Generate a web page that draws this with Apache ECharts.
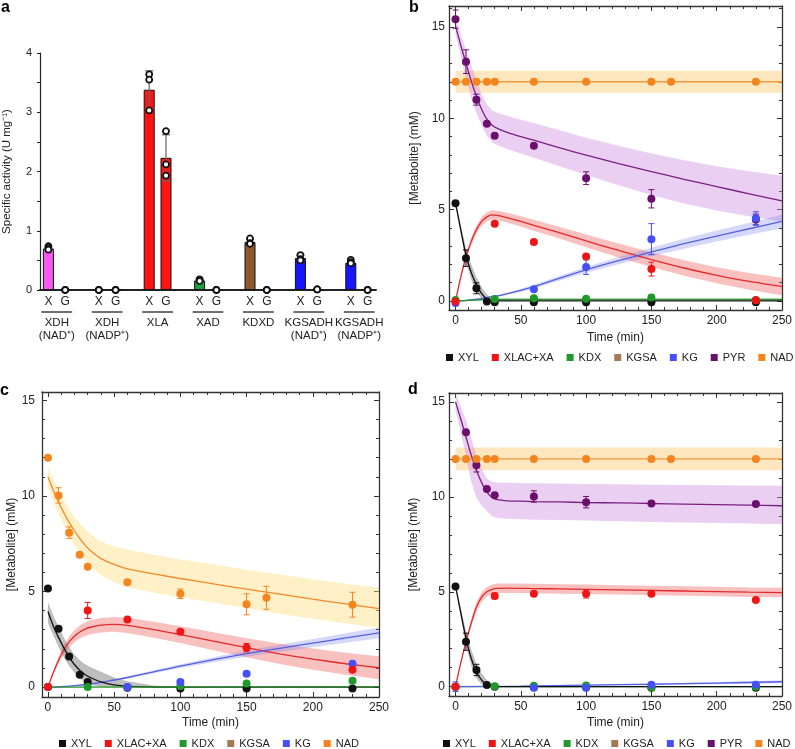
<!DOCTYPE html>
<html><head><meta charset="utf-8">
<script src="https://cdn.jsdelivr.net/npm/echarts@6/dist/echarts.min.js"></script>
<style>html,body{margin:0;padding:0;background:#fff}#chart{width:795px;height:749px}</style>
</head><body><div id="chart"></div>
<script>
// ================= Panel a data =================
const enzymeGroups = ['XDH\n(NAD\u207A)', 'XDH\n(NADP\u207A)', 'XLA', 'XAD', 'KDXD', 'KGSADH\n(NAD\u207A)', 'KGSADH\n(NADP\u207A)'];
const substrateLabels = ['X', 'G'];
const activityX = [0.70, 0.00, 3.38, 0.16, 0.81, 0.54, 0.46];
const activityG = [0.00, 0.00, 2.23, 0.00, 0.00, 0.01, 0.00];
const sdX = [0.03, 0.00, 0.32, 0.01, 0.05, 0.05, 0.02];
const sdG = [0.00, 0.00, 0.39, 0.00, 0.00, 0.00, 0.00];
const repX = [[0.74, 0.71, 0.68], [0, 0, 0], [3.64, 3.55, 3.03], [0.18, 0.17, 0.15], [0.87, 0.79, 0.78], [0.59, 0.52, 0.50], [0.51, 0.47, 0.45]];
const repG = [[0, 0, 0], [0, 0, 0], [2.68, 2.12, 1.93], [0, 0, 0], [0, 0, 0], [0.01, 0.01, 0.01], [0, 0, 0]];
const activityTicks = [0, 1, 2, 3, 4];

// ================= Time-course axes =================
const timeTicks = [0, 50, 100, 150, 200, 250];
const timeMinorTicks = [0,10,20,30,40,50,60,70,80,90,100,110,120,130,140,150,160,170,180,190,200,210,220,230,240,250];
const concTicks = [0, 5, 10, 15];
const concMinorTicksB = [0,1,2,3,4,5,6,7,8,9,10,11,12,13,14,15,16];
const concMinorTicks = [0,1,2,3,4,5,6,7,8,9,10,11,12,13,14,15];

// sampling times of measurements
const timesPts = [0, 8, 16, 24, 30, 60, 100, 150, 230];
const timesNAD = [0, 8, 16, 24, 30, 60, 100, 150, 165, 230];
const timesLate = [0, 30, 60, 100, 150, 230];
const timesKG = [0, 60, 100, 150, 230];
const timesPYRd = [8, 16, 24, 30, 60, 100, 150, 230];

// model curve times
const fitT = [0, 4, 8, 12, 16, 20, 24, 28, 32, 40, 50, 60, 80, 100, 125, 150, 175, 200, 225, 250];
const flatT = [0, 250];
const kdxT = [0, 10, 20, 30, 250];
const kgdT = [0, 50, 100, 150, 200, 250];

// ================= Panel b =================
const bXYL = [5.35, 2.34, 0.69, -0.04, -0.07, -0.07, -0.07, -0.07, -0.07];
const bXYLerr = [0.05, 0.45, 0.3, 0, 0, 0, 0, 0, 0];
const bXLAC = [-0.03, 4.22, 3.23, 2.43, 1.74, 0.03];
const bXLACerr = [0, 0.08, 0.08, 0.1, 0.38, 0];
const bKDX = [0.05, 0.1, 0.15, 0.11, 0.18, 0.05];
const bKG = [-0.12, 0.64, 1.85, 3.38, 4.53];
const bKGerr = [0.05, 0.05, 0.4, 0.85, 0.35];
const bPYR = [15.43, 13.1, 11.02, 9.7, 9.04, 8.5, 6.72, 5.59, 4.45];
const bPYRerr = [0.5, 0.65, 0.3, 0.1, 0.1, 0.1, 0.35, 0.5, 0.3];
const bNAD = [12, 12, 12, 12, 12, 12, 12, 12, 12, 12];

const bXYLfit = [5.35, 3.9, 2.5, 1.55, 0.88, 0.4, 0.1, 0.01, 0, 0, 0, 0, 0, 0, 0, 0, 0, 0, 0, 0];
const bXYLlo  = [5.25, 3.65, 2.15, 1.15, 0.5, 0.12, 0, 0, 0, 0, 0, 0, 0, 0, 0, 0, 0, 0, 0, 0];
const bXYLhi  = [5.45, 4.15, 2.9, 2.0, 1.3, 0.75, 0.35, 0.12, 0.03, 0, 0, 0, 0, 0, 0, 0, 0, 0, 0, 0];
const bXLACfit = [0, 1.3, 2.4, 3.25, 3.9, 4.35, 4.6, 4.71, 4.68, 4.55, 4.35, 4.14, 3.72, 3.28, 2.76, 2.26, 1.8, 1.4, 1.07, 0.79];
const bXLAClo  = [0, 1.2, 2.25, 3.05, 3.68, 4.11, 4.35, 4.46, 4.42, 4.28, 4.07, 3.84, 3.4, 2.93, 2.38, 1.86, 1.38, 0.96, 0.61, 0.31];
const bXLAChi  = [0, 1.4, 2.55, 3.45, 4.12, 4.59, 4.85, 4.96, 4.94, 4.82, 4.63, 4.44, 4.04, 3.63, 3.14, 2.66, 2.22, 1.84, 1.53, 1.27];
const bKGfit = [0, 0, 0.02, 0.05, 0.09, 0.13, 0.18, 0.23, 0.27, 0.4, 0.58, 0.78, 1.25, 1.7, 2.2, 2.68, 3.13, 3.55, 3.95, 4.35];
const bKGlo  = [0, 0, 0.01, 0.03, 0.06, 0.1, 0.14, 0.18, 0.22, 0.34, 0.5, 0.68, 1.12, 1.54, 2.0, 2.45, 2.86, 3.25, 3.62, 3.98];
const bKGhi  = [0, 0, 0.03, 0.07, 0.12, 0.16, 0.22, 0.28, 0.32, 0.46, 0.66, 0.88, 1.38, 1.86, 2.4, 2.91, 3.4, 3.85, 4.28, 4.72];
const bPYRfit = [15.05, 14.0, 13.02, 12.05, 11.2, 10.5, 9.95, 9.62, 9.45, 9.22, 9.0, 8.8, 8.38, 7.98, 7.52, 7.08, 6.66, 6.26, 5.86, 5.48];
const bPYRlo  = [14.6, 13.4, 12.2, 11.1, 10.3, 9.6, 9.05, 8.68, 8.52, 8.3, 8.07, 7.84, 7.36, 6.9, 6.33, 5.8, 5.33, 4.95, 4.64, 4.35];
const bPYRhi  = [15.6, 14.6, 13.75, 12.9, 12.1, 11.3, 10.75, 10.42, 10.3, 10.12, 9.92, 9.74, 9.34, 8.94, 8.5, 8.07, 7.7, 7.37, 7.1, 6.85];
const bNADfit = [12, 12];
const bNADlo  = [11.4, 11.4];
const bNADhi  = [12.6, 12.6];
const bKDXfit = [0, 0.03, 0.06, 0.08, 0.08];
const bKDXlo  = [0, 0, 0.02, 0.04, 0.04];
const bKDXhi  = [0, 0.06, 0.1, 0.13, 0.13];

// ================= Panel c =================
const cXYL = [5.16, 3.05, 1.6, 0.65, 0.26, -0.03, -0.08, -0.08, -0.08];
const cXLAC = [0, 4.01, 3.54, 2.9, 2.06, 0.91];
const cXLACerr = [0, 0.42, 0.08, 0.1, 0.22, 0.05];
const cKDX = [0, 0.0, 0.0, 0.05, 0.18, 0.33];
const cKG = [0, 0, 0.26, 0.7, 1.22];
const cNAD = [12.0, 10.03, 8.08, 6.92, 6.3, 5.48, 4.88, 4.33, 4.67, 4.31];
const cNADerr = [0, 0.4, 0.3, 0.1, 0.05, 0.1, 0.25, 0.55, 0.6, 0.65];

const cXYLfit = [3.95, 3.2, 2.6, 2.05, 1.57, 1.18, 0.88, 0.66, 0.5, 0.27, 0.11, 0.04, 0, 0, 0, 0, 0, 0, 0, 0];
const cXYLlo  = [3.35, 2.7, 2.1, 1.55, 1.1, 0.75, 0.45, 0.25, 0.12, 0.02, 0, 0, 0, 0, 0, 0, 0, 0, 0, 0];
const cXYLhi  = [4.45, 3.75, 3.15, 2.6, 2.1, 1.7, 1.4, 1.2, 1.05, 0.8, 0.5, 0.3, 0.08, 0, 0, 0, 0, 0, 0, 0];
const cXLACfit = [0, 0.75, 1.4, 1.95, 2.36, 2.66, 2.88, 3.03, 3.13, 3.24, 3.28, 3.23, 3.0, 2.74, 2.4, 2.06, 1.74, 1.46, 1.22, 1.01];
const cXLAClo  = [0, 0.65, 1.22, 1.71, 2.08, 2.34, 2.54, 2.67, 2.76, 2.86, 2.89, 2.83, 2.58, 2.3, 1.93, 1.56, 1.21, 0.9, 0.64, 0.41];
const cXLAChi  = [0, 0.85, 1.58, 2.19, 2.64, 2.98, 3.22, 3.39, 3.5, 3.62, 3.67, 3.63, 3.42, 3.18, 2.87, 2.56, 2.27, 2.02, 1.8, 1.61];
const cKGfit = [0, 0, 0.01, 0.03, 0.05, 0.08, 0.1, 0.13, 0.16, 0.24, 0.37, 0.5, 0.8, 1.1, 1.43, 1.75, 2.03, 2.3, 2.57, 2.84];
const cKGlo  = [0, 0, 0.01, 0.02, 0.04, 0.06, 0.08, 0.1, 0.13, 0.2, 0.32, 0.44, 0.72, 1.0, 1.3, 1.59, 1.84, 2.08, 2.32, 2.56];
const cKGhi  = [0, 0, 0.01, 0.04, 0.06, 0.1, 0.12, 0.16, 0.19, 0.28, 0.42, 0.56, 0.88, 1.2, 1.56, 1.91, 2.22, 2.52, 2.82, 3.12];
const cNADfit = [11.0, 10.3, 9.68, 9.12, 8.62, 8.18, 7.78, 7.43, 7.14, 6.72, 6.42, 6.19, 5.92, 5.68, 5.4, 5.12, 4.86, 4.6, 4.35, 4.1];
const cNADlo  = [10.5, 9.7, 9.05, 8.47, 7.92, 7.42, 6.97, 6.62, 6.32, 5.87, 5.5, 5.22, 4.94, 4.7, 4.42, 4.12, 3.84, 3.58, 3.33, 3.1];
const cNADhi  = [11.5, 10.9, 10.3, 9.77, 9.32, 8.92, 8.57, 8.27, 8.02, 7.62, 7.36, 7.18, 6.92, 6.68, 6.41, 6.14, 5.89, 5.64, 5.41, 5.2];
const cKDXfit = [0, 0.01];
const cKDXlo  = [0, 0];
const cKDXhi  = [0.02, 0.05];

// ================= Panel d =================
const dXYL = [5.28, 2.37, 0.88, 0.09, 0.0, -0.03, -0.03, -0.05, -0.05];
const dXYLerr = [0.05, 0.45, 0.3, 0, 0, 0, 0, 0, 0];
const dXLAC = [0, 4.78, 4.89, 4.89, 4.89, 4.57];
const dXLACerr = [0, 0.15, 0.05, 0.22, 0.05, 0.05];
const dKDX = [0, 0.02, 0.05, 0.06, -0.04, 0.0];
const dKG = [0, -0.05, -0.05, 0.1, 0.1];
const dKGerr = [0.25, 0, 0, 0.05, 0];
const dPYR = [13.4, 11.66, 10.41, 10.09, 10.02, 9.72, 9.65, 9.62];
const dPYRerr = [0.1, 0.35, 0.1, 0.1, 0.3, 0.3, 0.1, 0.1];
const dNAD = [12, 12, 12, 12, 12, 12, 12, 12, 12, 12];

const dXYLfit = [5.31, 3.9, 2.55, 1.5, 0.79, 0.35, 0.1, 0.02, 0, 0, 0, 0, 0, 0, 0, 0, 0, 0, 0, 0];
const dXYLlo  = [5.2, 3.65, 2.2, 1.1, 0.45, 0.1, 0, 0, 0, 0, 0, 0, 0, 0, 0, 0, 0, 0, 0, 0];
const dXYLhi  = [5.4, 4.15, 2.95, 1.95, 1.2, 0.7, 0.35, 0.12, 0.02, 0, 0, 0, 0, 0, 0, 0, 0, 0, 0, 0];
const dXLACfit = [0, 1.25, 2.35, 3.35, 4.2, 4.72, 5.0, 5.13, 5.18, 5.19, 5.18, 5.17, 5.15, 5.13, 5.1, 5.07, 5.04, 5.01, 4.98, 4.96];
const dXLAClo  = [0, 1.15, 2.2, 3.15, 3.95, 4.47, 4.75, 4.88, 4.93, 4.94, 4.93, 4.92, 4.9, 4.88, 4.85, 4.82, 4.79, 4.76, 4.73, 4.71];
const dXLAChi  = [0, 1.35, 2.5, 3.55, 4.45, 4.97, 5.25, 5.38, 5.43, 5.44, 5.43, 5.42, 5.4, 5.38, 5.35, 5.32, 5.29, 5.26, 5.23, 5.21];
const dPYRfit = [15.0, 14.1, 13.15, 12.2, 11.4, 10.75, 10.25, 9.97, 9.85, 9.79, 9.77, 9.75, 9.73, 9.7, 9.68, 9.65, 9.62, 9.59, 9.56, 9.53];
const dPYRlo  = [14.55, 13.4, 12.15, 10.8, 9.95, 9.55, 9.25, 8.98, 8.88, 8.84, 8.82, 8.8, 8.78, 8.75, 8.72, 8.68, 8.65, 8.62, 8.59, 8.56];
const dPYRhi  = [15.45, 14.75, 14.05, 13.1, 12.15, 11.45, 10.95, 10.8, 10.76, 10.74, 10.72, 10.71, 10.7, 10.68, 10.66, 10.64, 10.62, 10.61, 10.6, 10.59];
const dNADfit = [12, 12];
const dNADlo  = [11.4, 11.4];
const dNADhi  = [12.6, 12.6];
const dKGfit = [0, 0.03, 0.08, 0.13, 0.19, 0.26];
const dKGlo  = [0, 0.02, 0.05, 0.09, 0.13, 0.18];
const dKGhi  = [0, 0.04, 0.11, 0.17, 0.25, 0.34];
const dKDXfit = [0, 0];
const dKDXlo  = [0, 0];
const dKDXhi  = [0.02, 0.02];

// ================= Styles =================
const FONT = "'Liberation Sans', Arial, Helvetica, sans-serif";
const AXC = '#333';
const groupColors = ['#f957f5', '#f957f5', '#ff1414', '#1f9e45', '#8d5a2e', '#1515ff', '#1515ff'];
const C = {
  XYL: {pt: '#111111', line: '#111111', band: 'rgba(110,110,110,0.45)'},
  XLAC: {pt: '#f01515', line: '#e52a2a', band: 'rgba(240,90,90,0.38)'},
  KDX: {pt: '#1f9a2a', line: '#2a8f2a', band: 'rgba(60,180,60,0.35)'},
  KGSA: {pt: '#8b5a2b'},
  KG: {pt: '#4450f5', line: '#5560e2', band: 'rgba(115,125,240,0.3)'},
  PYR: {pt: '#6b0f6f', line: '#7a2080', band: 'rgba(205,140,225,0.42)'},
  NAD: {pt: '#f5841f', line: '#f39a3a', band: 'rgba(252,195,100,0.42)'},
  NADc: {pt: '#f5841f', line: '#f08a2a', band: 'rgba(255,222,130,0.45)'}
};

// ================= Helpers =================
function boxAxes(grid, xr, yr, yMinor, nameGapY, labelMarginY, nameGapX) {
  const base = {gridIndex: grid, type: 'value', splitLine: {show: false}};
  const lineOn = {show: true, onZero: false, lineStyle: {color: AXC, width: 1.3}};
  const lineOff = {show: false, onZero: false};
  const tick = (vals, len) => ({show: true, inside: true, length: len, customValues: vals, lineStyle: {color: AXC, width: 1}});
  const noLab = {show: false};
  const xs = [
    Object.assign({}, base, {min: xr[0], max: xr[1], position: 'bottom', axisLine: lineOn, axisTick: tick(timeTicks, 5),
      axisLabel: {show: true, customValues: timeTicks, margin: 5, fontSize: 12, color: '#222', fontFamily: FONT},
      name: 'Time (min)', nameLocation: 'middle', nameGap: nameGapX, nameTextStyle: {fontSize: 12, color: '#222', fontFamily: FONT}}),
    Object.assign({}, base, {min: xr[0], max: xr[1], position: 'top', axisLine: lineOn, axisTick: tick(timeTicks, 5), axisLabel: noLab}),
    Object.assign({}, base, {min: xr[0], max: xr[1], position: 'bottom', axisLine: lineOff, axisTick: tick(timeMinorTicks, 3), axisLabel: noLab}),
    Object.assign({}, base, {min: xr[0], max: xr[1], position: 'top', axisLine: lineOff, axisTick: tick(timeMinorTicks, 3), axisLabel: noLab})
  ];
  const ys = [
    Object.assign({}, base, {min: yr[0], max: yr[1], position: 'left', axisLine: lineOn, axisTick: tick(concTicks, 5),
      axisLabel: {show: true, customValues: concTicks, margin: labelMarginY, fontSize: 12, color: '#222', fontFamily: FONT},
      name: '[Metabolite] (mM)', nameLocation: 'middle', nameGap: nameGapY, nameTextStyle: {fontSize: 12, color: '#222', fontFamily: FONT}}),
    Object.assign({}, base, {min: yr[0], max: yr[1], position: 'right', axisLine: lineOn, axisTick: tick(concTicks, 5), axisLabel: noLab}),
    Object.assign({}, base, {min: yr[0], max: yr[1], position: 'left', axisLine: lineOff, axisTick: tick(yMinor, 3), axisLabel: noLab}),
    Object.assign({}, base, {min: yr[0], max: yr[1], position: 'right', axisLine: lineOff, axisTick: tick(yMinor, 3), axisLabel: noLab})
  ];
  return {xs, ys};
}

function band(ax, t, lo, hi, color) {
  return {
    type: 'custom', name: 'band', xAxisIndex: ax, yAxisIndex: ax, z: 1, silent: true, clip: true,
    data: t.map((tt, i) => [tt, lo[i], hi[i]]),
    encode: {x: 0, y: [1, 2]},
    renderItem: function (params, api) {
      if (params.dataIndex !== 0) return null;
      const pts = [];
      for (let i = 0; i < t.length; i++) pts.push(api.coord([t[i], lo[i]]));
      for (let i = t.length - 1; i >= 0; i--) pts.push(api.coord([t[i], hi[i]]));
      return {type: 'polygon', shape: {points: pts}, style: {fill: color}};
    }
  };
}
function fitLine(ax, t, v, color) {
  return {
    type: 'line', name: 'fit', xAxisIndex: ax, yAxisIndex: ax, z: 2, silent: true,
    showSymbol: false, symbol: 'none', smooth: 0.25,
    lineStyle: {color: color, width: 1.3}, itemStyle: {color: color},
    data: t.map((tt, i) => [tt, v[i]])
  };
}
function errBars(ax, t, v, e, color) {
  return {
    type: 'custom', name: 'err', xAxisIndex: ax, yAxisIndex: ax, z: 3, silent: true,
    data: t.map((tt, i) => [tt, v[i], e ? e[i] : 0]),
    renderItem: function (params, api) {
      const x = api.value(0), y = api.value(1), er = api.value(2);
      if (!er) return null;
      const a = api.coord([x, y + er]), b = api.coord([x, y - er]);
      const st = {stroke: color, lineWidth: 1};
      return {type: 'group', children: [
        {type: 'line', shape: {x1: a[0], y1: a[1], x2: b[0], y2: b[1]}, style: st},
        {type: 'line', shape: {x1: a[0] - 3, y1: a[1], x2: a[0] + 3, y2: a[1]}, style: st},
        {type: 'line', shape: {x1: b[0] - 3, y1: b[1], x2: b[0] + 3, y2: b[1]}, style: st}
      ]};
    }
  };
}
function points(ax, name, t, v, color) {
  return {
    type: 'scatter', name: name, xAxisIndex: ax, yAxisIndex: ax, z: 4, silent: true,
    symbol: 'circle', symbolSize: 8, itemStyle: {color: color, opacity: 1},
    data: t.map((tt, i) => [tt, v[i]])
  };
}

// ================= Build =================
const xAxes = [], yAxes = [];
const catLabels = [];
for (let g = 0; g < enzymeGroups.length; g++) {
  catLabels.push(substrateLabels[0], substrateLabels[1]);
  if (g < enzymeGroups.length - 1) catLabels.push('');
}
xAxes.push({gridIndex: 0, type: 'category', data: catLabels, boundaryGap: true,
  axisLine: {show: true, lineStyle: {color: '#222', width: 2}}, axisTick: {show: false},
  axisLabel: {interval: 0, margin: 6, fontSize: 12, color: '#222', fontFamily: FONT}});
yAxes.push({gridIndex: 0, type: 'value', min: 0, max: 4, interval: 0.5, splitLine: {show: false},
  axisLine: {show: true, lineStyle: {color: '#222', width: 1.2}},
  axisTick: {show: true, length: 3, lineStyle: {color: '#222'}},
  axisLabel: {customValues: activityTicks, margin: 8, fontSize: 11, color: '#222', fontFamily: FONT},
  name: 'Specific activity (U mg\u207B\u00B9)', nameLocation: 'middle', nameGap: 27,
  nameTextStyle: {fontSize: 11.5, color: '#222', fontFamily: FONT}});

const axB = boxAxes(1, [-5, 250], [-0.5, 16.15], concMinorTicksB, 28, 4, 22);
const axC = boxAxes(2, [-4.5, 250], [-0.52, 15.44], concMinorTicks, 22, 7, 20);
const axD = boxAxes(3, [-5, 250], [-0.49, 15.47], concMinorTicks, 29, 4, 21);
[axB, axC, axD].forEach(a => { xAxes.push(...a.xs); yAxes.push(...a.ys); });
const AXB = 1, AXC_ = 5, AXD = 9;

const series = [];
// ---- panel a series ----
const barData = [], errA = [], repData = [];
for (let g = 0; g < enzymeGroups.length; g++) {
  const ix = 3 * g, ig = 3 * g + 1;
  barData[ix] = {value: activityX[g], itemStyle: {color: groupColors[g]}};
  barData[ig] = {value: activityG[g], itemStyle: {color: groupColors[g]}};
  if (g < enzymeGroups.length - 1) barData[ig + 1] = '-';
  errA.push([ix, activityX[g], sdX[g]], [ig, activityG[g], sdG[g]]);
  repX[g].forEach(r => repData.push([ix, r]));
  repG[g].forEach(r => repData.push([ig, r]));
}
series.push({type: 'bar', xAxisIndex: 0, yAxisIndex: 0, barWidth: 11, silent: true, z: 2,
  itemStyle: {borderColor: '#111', borderWidth: 1}, data: barData});
series.push({type: 'custom', xAxisIndex: 0, yAxisIndex: 0, z: 3, silent: true, data: errA,
  renderItem: function (params, api) {
    const x = api.value(0), y = api.value(1), e = api.value(2);
    if (!e || e < 0.05) return null;
    const a = api.coord([x, y + e]), b = api.coord([x, y - e]);
    const st = {stroke: '#666', lineWidth: 1.2};
    return {type: 'group', children: [
      {type: 'line', shape: {x1: a[0], y1: a[1], x2: b[0], y2: b[1]}, style: st},
      {type: 'line', shape: {x1: a[0] - 4, y1: a[1], x2: a[0] + 4, y2: a[1]}, style: st},
      {type: 'line', shape: {x1: b[0] - 4, y1: b[1], x2: b[0] + 4, y2: b[1]}, style: st}
    ]};
  }});
series.push({type: 'scatter', xAxisIndex: 0, yAxisIndex: 0, z: 4, silent: true, symbol: 'circle', symbolSize: 6,
  itemStyle: {color: '#fff', borderColor: '#111', borderWidth: 1.8, opacity: 1}, data: repData});
series.push({type: 'custom', xAxisIndex: 0, yAxisIndex: 0, z: 5, silent: true,
  data: enzymeGroups.map((n, g) => [3 * g, 0]),
  renderItem: function (params, api) {
    const i0 = api.value(0);
    const p1 = api.coord([i0, 0]), p2 = api.coord([i0 + 1, 0]);
    const y0 = p1[1];
    const mid = (p1[0] + p2[0]) / 2;
    return {type: 'group', children: [
      {type: 'line', shape: {x1: p1[0] - 7, y1: y0 + 22, x2: p2[0] + 7, y2: y0 + 22}, style: {stroke: '#222', lineWidth: 1.3}},
      {type: 'text', style: {text: enzymeGroups[params.dataIndex], x: mid, y: y0 + 26, fill: '#222',
        font: '11.5px ' + FONT, align: 'center', verticalAlign: 'top', textAlign: 'center', textVerticalAlign: 'top', lineHeight: 13}}
    ]};
  }});

// ---- panel b ----
series.push(
  band(AXB, flatT, bNADlo, bNADhi, C.NAD.band),
  band(AXB, fitT, bPYRlo, bPYRhi, C.PYR.band),
  band(AXB, fitT, bXLAClo, bXLAChi, C.XLAC.band),
  band(AXB, fitT, bKGlo, bKGhi, C.KG.band),
  band(AXB, fitT, bXYLlo, bXYLhi, C.XYL.band),
  band(AXB, kdxT, bKDXlo, bKDXhi, C.KDX.band),
  fitLine(AXB, flatT, bNADfit, C.NAD.line),
  fitLine(AXB, fitT, bPYRfit, C.PYR.line),
  fitLine(AXB, fitT, bXLACfit, C.XLAC.line),
  fitLine(AXB, fitT, bKGfit, C.KG.line),
  fitLine(AXB, fitT, bXYLfit, C.XYL.line),
  fitLine(AXB, kdxT, bKDXfit, C.KDX.line),
  errBars(AXB, timesPts, bPYR, bPYRerr, C.PYR.pt),
  errBars(AXB, timesPts, bXYL, bXYLerr, C.XYL.pt),
  errBars(AXB, timesKG, bKG, bKGerr, C.KG.pt),
  errBars(AXB, timesLate, bXLAC, bXLACerr, C.XLAC.pt),
  points(AXB, 'PYR', timesPts, bPYR, C.PYR.pt),
  points(AXB, 'NAD', timesNAD, bNAD, C.NAD.pt),
  points(AXB, 'XYL', timesPts, bXYL, C.XYL.pt),
  points(AXB, 'KDX', timesLate, bKDX, C.KDX.pt),
  points(AXB, 'KG', timesKG, bKG, C.KG.pt),
  points(AXB, 'XLAC+XA', timesLate, bXLAC, C.XLAC.pt),
  {type: 'scatter', name: 'KGSA', xAxisIndex: AXB, yAxisIndex: AXB, itemStyle: {color: C.KGSA.pt}, data: []}
);

// ---- panel c ----
series.push(
  band(AXC_, fitT, cNADlo, cNADhi, C.NADc.band),
  band(AXC_, fitT, cXLAClo, cXLAChi, C.XLAC.band),
  band(AXC_, fitT, cKGlo, cKGhi, C.KG.band),
  band(AXC_, fitT, cXYLlo, cXYLhi, C.XYL.band),
  band(AXC_, flatT, cKDXlo, cKDXhi, C.KDX.band),
  fitLine(AXC_, fitT, cNADfit, C.NADc.line),
  fitLine(AXC_, fitT, cXLACfit, C.XLAC.line),
  fitLine(AXC_, fitT, cKGfit, C.KG.line),
  fitLine(AXC_, fitT, cXYLfit, C.XYL.line),
  fitLine(AXC_, flatT, cKDXfit, C.KDX.line),
  errBars(AXC_, timesNAD, cNAD, cNADerr, C.NAD.pt),
  errBars(AXC_, timesLate, cXLAC, cXLACerr, C.XLAC.pt),
  points(AXC_, 'NAD', timesNAD, cNAD, C.NAD.pt),
  points(AXC_, 'XYL', timesPts, cXYL, C.XYL.pt),
  points(AXC_, 'KDX', timesLate, cKDX, C.KDX.pt),
  points(AXC_, 'KG', timesKG, cKG, C.KG.pt),
  points(AXC_, 'XLAC+XA', timesLate, cXLAC, C.XLAC.pt)
);

// ---- panel d ----
series.push(
  band(AXD, flatT, dNADlo, dNADhi, C.NAD.band),
  band(AXD, fitT, dPYRlo, dPYRhi, C.PYR.band),
  band(AXD, fitT, dXLAClo, dXLAChi, C.XLAC.band),
  band(AXD, kgdT, dKGlo, dKGhi, C.KG.band),
  band(AXD, fitT, dXYLlo, dXYLhi, C.XYL.band),
  band(AXD, flatT, dKDXlo, dKDXhi, C.KDX.band),
  fitLine(AXD, flatT, dNADfit, C.NAD.line),
  fitLine(AXD, fitT, dPYRfit, C.PYR.line),
  fitLine(AXD, fitT, dXLACfit, C.XLAC.line),
  fitLine(AXD, flatT, dKDXfit, C.KDX.line),
  fitLine(AXD, kgdT, dKGfit, C.KG.line),
  fitLine(AXD, fitT, dXYLfit, C.XYL.line),
  errBars(AXD, timesPYRd, dPYR, dPYRerr, C.PYR.pt),
  errBars(AXD, timesPts, dXYL, dXYLerr, C.XYL.pt),
  errBars(AXD, timesKG, dKG, dKGerr, C.KG.pt),
  errBars(AXD, timesLate, dXLAC, dXLACerr, C.XLAC.pt),
  points(AXD, 'PYR', timesPYRd, dPYR, C.PYR.pt),
  points(AXD, 'NAD', timesNAD, dNAD, C.NAD.pt),
  points(AXD, 'XYL', timesPts, dXYL, C.XYL.pt),
  points(AXD, 'KDX', timesLate, dKDX, C.KDX.pt),
  points(AXD, 'KG', timesKG, dKG, C.KG.pt),
  points(AXD, 'XLAC+XA', timesLate, dXLAC, C.XLAC.pt)
);

const legendNames7 = ['XYL', 'XLAC+XA', 'KDX', 'KGSA', 'KG', 'PYR', 'NAD'];
const legendNames6 = ['XYL', 'XLAC+XA', 'KDX', 'KGSA', 'KG', 'NAD'];
const legendBase = {icon: 'rect', itemWidth: 7, itemHeight: 7, itemGap: 13, selectedMode: false, orient: 'horizontal',
  textStyle: {fontSize: 11, color: '#222', fontFamily: FONT}, padding: 0};

const panelLabel = (txt, left, top) => ({type: 'text', left: left, top: top,
  style: {text: txt, font: 'bold 16px ' + FONT, fill: '#000'}});

const option = {
  animation: false,
  backgroundColor: '#fff',
  textStyle: {fontFamily: FONT},
  grid: [
    {left: 40, top: 53, width: 336, height: 237},
    {left: 449, top: 6, width: 337, height: 304},
    {left: 42, top: 392, width: 337, height: 305},
    {left: 449, top: 393, width: 337, height: 303}
  ],
  xAxis: xAxes,
  yAxis: yAxes,
  legend: [
    Object.assign({}, legendBase, {data: legendNames7, left: 446, top: 352}),
    Object.assign({}, legendBase, {data: legendNames6, left: 59, top: 738}),
    Object.assign({}, legendBase, {data: legendNames7, left: 443, top: 738})
  ],
  graphic: [
    panelLabel('a', 1, 0),
    panelLabel('b', 409, 0),
    panelLabel('c', 0, 383),
    panelLabel('d', 408, 382)
  ],
  series: series
};
const chart = echarts.init(document.getElementById('chart'), null, {renderer: 'canvas'});
chart.setOption(option);
</script>
</body></html>
